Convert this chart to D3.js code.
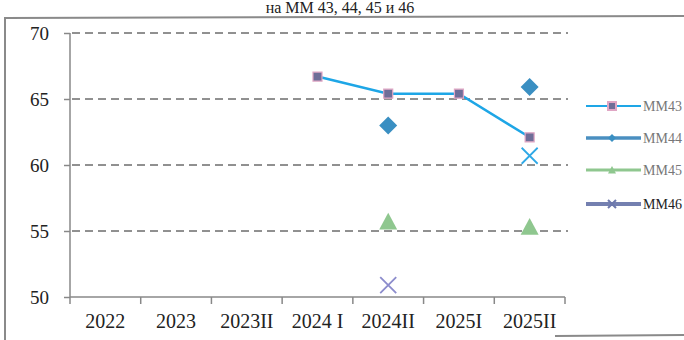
<!DOCTYPE html>
<meta charset="utf-8">
<style>
body { margin: 0; background: #fff; }
svg { display: block; font-family: "Liberation Serif", "DejaVu Serif", serif; }
.grid line { stroke: #222; stroke-width: 1px; stroke-dasharray: 8 5; }
</style>
<body>
<script src="https://d3js.org/d3.v7.min.js"></script>
<script>

var width = 684, height = 340;

var categories = ["2022", "2023", "2023II", "2024 I", "2024II", "2025I", "2025II"];
var yTicks = [50, 55, 60, 65, 70];
var seriesNames = ["ММ43", "ММ44", "ММ45", "ММ46"];
var mm43 = [null, null, null, 66.7, 65.4, 65.4, 62.1];
var mm44 = [null, null, null, null, 63.0, null, 65.9];
var mm45 = [null, null, null, null, 55.7, null, 55.3];
var mm46 = [null, null, null, null, 50.9, null, 60.7];
var mm46Colors = ["#8c8ccc", "#2ea8e6"];

var x = d3.scaleBand().domain(categories).range([70, 565]);
var y = d3.scaleLinear().domain([50, 70]).range([297, 33]);
var cx = function(c){ return x(c) + x.bandwidth()/2; };

var svg = d3.select("body").append("svg")
    .attr("width", width)
    .attr("height", height);

// title above the frame
svg.append("text")
    .attr("x", 340).attr("y", 13)
    .attr("text-anchor", "middle")
    .attr("font-size", 16)
    .attr("fill", "#222")
    .text("на ММ 43, 44, 45 и 46");

// frame of the chart area
svg.append("path")
    .attr("d", "M5,340 L5,18 L684,16")
    .attr("fill", "none").attr("stroke", "#8a8a8a").attr("stroke-width", 2);
svg.append("line")
    .attr("x1", 555).attr("x2", 684).attr("y1", 336).attr("y2", 335)
    .attr("stroke", "#8a8a8a").attr("stroke-width", 2);

// dashed gridlines
svg.append("g").attr("class", "grid")
  .selectAll("line")
  .data(yTicks.filter(function(d){ return d > 50; }))
  .enter().append("line")
    .attr("x1", 72).attr("x2", 568)
    .attr("y1", function(d){ return y(d); })
    .attr("y2", function(d){ return y(d); });

// y axis
var yAxis = svg.append("g")
    .attr("transform", "translate(70,0)")
    .call(d3.axisLeft(y).tickValues(yTicks).tickSize(6).tickPadding(15));
yAxis.selectAll("text").attr("font-size", 19).attr("fill", "#222")
    .attr("font-family", "Liberation Serif");
yAxis.selectAll("line, path").attr("stroke", "#888").attr("stroke-width", 1.5);
yAxis.select(".domain").attr("d", "M0,33V297");

// x axis
var xAxis = svg.append("g")
    .attr("transform", "translate(0,297)")
    .call(d3.axisBottom(x).tickSize(0).tickPadding(17));
xAxis.selectAll("text").attr("font-size", 20).attr("fill", "#222")
    .attr("font-family", "Liberation Serif");
xAxis.select(".domain").attr("stroke", "#888").attr("stroke-width", 1.5)
    .attr("d", "M70,0H565");
xAxis.selectAll(".edge")
  .data(categories.map(function(c){ return x(c); }).concat([x.range()[1]]))
  .enter().append("line").attr("class", "edge")
    .attr("x1", function(d){ return d; }).attr("x2", function(d){ return d; })
    .attr("y1", 0).attr("y2", 7)
    .attr("stroke", "#888").attr("stroke-width", 1.5);

// marker shapes
function square(s){ return "M" + (-s) + "," + (-s) + "h" + 2*s + "v" + 2*s + "h" + (-2*s) + "Z"; }
function diamond(s){ return "M0," + (-s) + "L" + s + ",0L0," + s + "L" + (-s) + ",0Z"; }
function triangle(s){ return "M0," + (-s) + "L" + s + "," + (s*0.85) + "L" + (-s) + "," + (s*0.85) + "Z"; }
function cross(s){ return "M" + (-s) + "," + (-s) + "L" + s + "," + s + "M" + s + "," + (-s) + "L" + (-s) + "," + s; }

function pts(vals){
  return categories.map(function(c, i){ return {c: c, v: vals[i], i: i}; })
    .filter(function(d){ return d.v !== null; });
}

// MM43 line + squares
var line = d3.line().x(function(d){ return cx(d.c); }).y(function(d){ return y(d.v); });
svg.append("path")
    .datum(pts(mm43))
    .attr("d", line)
    .attr("fill", "none").attr("stroke", "#1ea6e6").attr("stroke-width", 2.5);
svg.selectAll(".m43").data(pts(mm43)).enter().append("path")
    .attr("transform", function(d){ return "translate(" + cx(d.c) + "," + y(d.v) + ")"; })
    .attr("d", square(4.5))
    .attr("fill", "#6f6e98").attr("stroke", "#e0a6c4").attr("stroke-width", 1.2);

// MM44 diamonds
svg.selectAll(".m44").data(pts(mm44)).enter().append("path")
    .attr("transform", function(d){ return "translate(" + cx(d.c) + "," + y(d.v) + ")"; })
    .attr("d", diamond(9))
    .attr("fill", "#3a8fc2");

// MM45 triangles
svg.selectAll(".m45").data(pts(mm45)).enter().append("path")
    .attr("transform", function(d){ return "translate(" + cx(d.c) + "," + y(d.v) + ")"; })
    .attr("d", triangle(9))
    .attr("fill", "#8fc78f");

// MM46 crosses
svg.selectAll(".m46").data(pts(mm46)).enter().append("path")
    .attr("transform", function(d){ return "translate(" + cx(d.c) + "," + y(d.v) + ")"; })
    .attr("d", cross(8))
    .attr("fill", "none")
    .attr("stroke", function(d, i){ return mm46Colors[i]; })
    .attr("stroke-width", 1.8);

// legend
var legend = [
  {name: seriesNames[0], color: "#1ea6e6", w: 2, shape: square(4), fill: "#6f6e98", stroke: "#e0a6c4", text: "#777"},
  {name: seriesNames[1], color: "#4a8fc0", w: 3.5, shape: diamond(4), fill: "#3a8fc2", stroke: "none", text: "#777"},
  {name: seriesNames[2], color: "#8fc78f", w: 3, shape: triangle(4), fill: "#8fc78f", stroke: "none", text: "#777"},
  {name: seriesNames[3], color: "#7480b0", w: 4, shape: cross(4), fill: "none", stroke: "#6d78ac", text: "#222"}
];
var lg = svg.selectAll(".lg").data(legend).enter().append("g")
    .attr("transform", function(d, i){ return "translate(586," + [106, 138, 170, 204][i] + ")"; });
lg.append("line").attr("x1", 0).attr("x2", 55)
    .attr("stroke", function(d){ return d.color; })
    .attr("stroke-width", function(d){ return d.w; });
lg.append("path").attr("transform", "translate(26,0)")
    .attr("d", function(d){ return d.shape; })
    .attr("fill", function(d){ return d.fill; })
    .attr("stroke", function(d){ return d.stroke; })
    .attr("stroke-width", 2);
lg.append("text").attr("x", 57).attr("y", 5)
    .attr("font-size", 14)
    .attr("fill", function(d){ return d.text; })
    .text(function(d){ return d.name; });

</script>
